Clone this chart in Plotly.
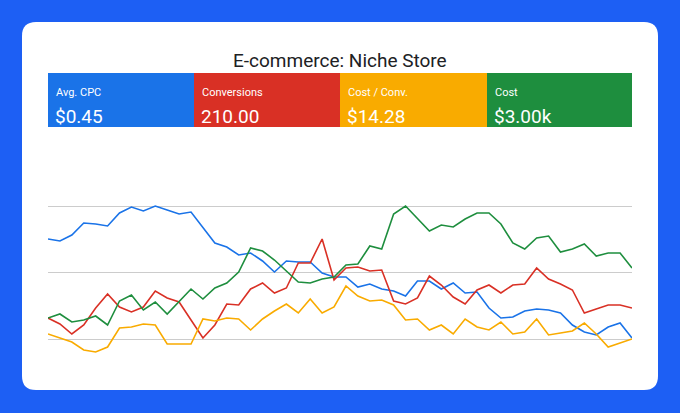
import plotly.graph_objects as go

days = list(range(50))
avg_cpc = [100,98,104,116,115,113,126,132,128,133,129,125,127,112,96,92,84,86,78,67,78,77,77,66,62,62,52,
           55,50,48,43,58,58,50,56,46,47,31,21,22,28,30,29,26,14,7,4,12,16,1]
conversions = [21,15,5,14,31,45,32,27,32,48,41,37,19,1,14,35,34,50,56,46,51,76,76,100,59,71,72,
               68,69,38,35,41,63,54,42,35,49,54,46,54,55,71,60,55,49,26,30,34,34,31]
cost_conv = [5,1,-3,-11,-13,-8,11,12,15,14,-5,-5,-5,20,18,21,20,9,20,28,35,26,40,26,32,53,43,
             38,39,34,19,20,9,14,5,20,12,9,17,5,7,20,4,6,8,16,5,-8,-4,0]
cost = [21,25,17,19,23,14,38,44,29,37,25,37,50,40,51,56,67,91,88,79,68,57,56,60,62,74,75,
        93,90,125,133,121,108,114,112,120,126,126,115,96,90,101,103,87,90,95,83,86,86,71]

kpi_labels = ["Avg. CPC", "Conversions", "Cost / Conv.", "Cost"]
kpi_values = ["$0.45", "210.00", "$14.28", "$3.00k"]
kpi_colors = ["#1a73e8", "#d93025", "#f9ab00", "#1e8e3e"]

W, H = 680, 413
def px(x): return x / W
def py(y): return 1 - y / H

fig = go.Figure()
series = [(avg_cpc, kpi_colors[0]), (conversions, kpi_colors[1]), (cost_conv, kpi_colors[2]), (cost, kpi_colors[3])]
for vals, c in series:
    fig.add_trace(go.Scatter(x=days, y=vals, mode="lines", line=dict(color=c, width=1.6), hoverinfo="skip"))

shapes = [dict(type="path", xref="paper", yref="paper", layer="below",
               path=f"M {px(36)} {py(22)} L {px(644)} {py(22)} Q {px(658)} {py(22)} {px(658)} {py(36)} "
                    f"L {px(658)} {py(376)} Q {px(658)} {py(390)} {px(644)} {py(390)} "
                    f"L {px(36)} {py(390)} Q {px(22)} {py(390)} {px(22)} {py(376)} "
                    f"L {px(22)} {py(36)} Q {px(22)} {py(22)} {px(36)} {py(22)} Z",
               fillcolor="white", line=dict(width=0))]
annotations = [dict(text="E-commerce: Niche Store", x=0.5, y=py(47), xref="paper", yref="paper",
                    showarrow=False, font=dict(size=19, color="#202124", family="Roboto"))]
edges = [48, 194, 340, 487, 632]
for i in range(4):
    shapes.append(dict(type="rect", xref="paper", yref="paper", x0=px(edges[i]), x1=px(edges[i+1]),
                       y0=py(127), y1=py(73), fillcolor=kpi_colors[i], line=dict(width=0)))
    annotations.append(dict(text=kpi_labels[i], x=px(edges[i] + 6), y=py(84), xref="paper", yref="paper",
                            xanchor="left", showarrow=False, font=dict(size=11, color="white", family="Roboto")))
    annotations.append(dict(text=kpi_values[i], x=px(edges[i] + 5), y=py(103), xref="paper", yref="paper",
                            xanchor="left", showarrow=False, font=dict(size=19, color="white", family="Roboto")))

fig.update_layout(
    width=W, height=H, paper_bgcolor="#1d5ff4", plot_bgcolor="rgba(0,0,0,0)",
    margin=dict(l=0, r=0, t=0, b=0), showlegend=False,
    shapes=shapes, annotations=annotations,
    xaxis=dict(domain=[px(48), px(632)], range=[0, 49], showgrid=False, zeroline=False,
               showticklabels=False, fixedrange=True),
    yaxis=dict(domain=[py(370), py(140)], range=[-31, 199], tickvals=[0, 66.5, 133],
               showgrid=True, gridcolor="#cccccc", gridwidth=1, zeroline=False,
               showticklabels=False, fixedrange=True),
)
fig.write_html("out.html", config={"displayModeBar": False},
               post_script="document.body.style.margin='0';document.body.style.overflow='hidden';")
